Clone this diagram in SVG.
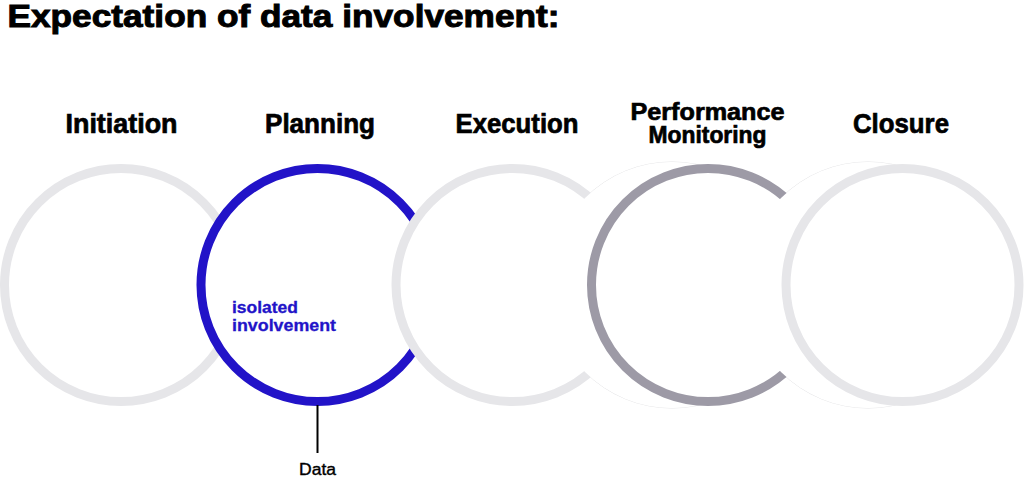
<svg xmlns="http://www.w3.org/2000/svg" width="1024" height="477" viewBox="0 0 1024 477">
  <style>
    .title { font-family: "Liberation Sans", Arial, sans-serif; font-weight: bold; font-size: 32px; fill: #000; stroke: #000; stroke-width: 1; }
    .label { font-family: "Liberation Sans", Arial, sans-serif; font-weight: bold; font-size: 27px; fill: #000; stroke: #000; stroke-width: 0.7; text-anchor: middle; }
    .label2 { font-family: "Liberation Sans", Arial, sans-serif; font-weight: bold; font-size: 23.5px; fill: #000; stroke: #000; stroke-width: 0.7; text-anchor: middle; }
    .ring { fill: #ffffff; stroke-width: 9; }
    .light { stroke: #e6e6e9; }
    .blue { stroke: #2213c8; }
    .mid { stroke: #9d9aa6; }
    .disk { fill: #ffffff; stroke: none; }
    .halo { fill: none; stroke: #e4e4e6; stroke-width: 1; }
    .inner { font-family: "Liberation Sans", Arial, sans-serif; font-weight: bold; font-size: 16.5px; fill: #2213c8; stroke: #2213c8; stroke-width: 0.3; }
    .data { font-family: "Liberation Sans", Arial, sans-serif; font-size: 16px; fill: #000; stroke: #000; stroke-width: 0.35; text-anchor: middle; }
    .leader { stroke: #000; stroke-width: 2; fill: none; }
  </style>

  <rect x="0" y="0" width="1024" height="477" fill="#ffffff"/>

  <text class="title" x="7.5" y="27" textLength="552" lengthAdjust="spacingAndGlyphs">Expectation of data involvement:</text>

  <!-- faint halos of offset backing disks -->
  <circle class="halo" cx="672" cy="285" r="123"/>
  <circle class="halo" cx="868" cy="285" r="123"/>

  <g id="initiation">
    <circle class="ring light" cx="121" cy="285" r="116.5"/>
    <text class="label" x="121.5" y="133" textLength="112" lengthAdjust="spacingAndGlyphs">Initiation</text>
  </g>

  <g id="planning">
    <circle class="ring blue" cx="317.5" cy="285" r="116.5"/>
    <text class="label" x="320" y="133" textLength="110" lengthAdjust="spacingAndGlyphs">Planning</text>
    <text class="inner" x="232" y="313" textLength="66" lengthAdjust="spacingAndGlyphs">isolated</text>
    <text class="inner" x="232" y="331" textLength="104" lengthAdjust="spacingAndGlyphs">involvement</text>
  </g>

  <g id="execution">
    <circle class="ring light" cx="512.5" cy="285" r="116.5"/>
    <text class="label" x="517" y="133" textLength="123" lengthAdjust="spacingAndGlyphs">Execution</text>
  </g>

  <g id="performance-monitoring">
    <circle class="disk" cx="672" cy="285" r="123"/>
    <circle class="ring mid" cx="708" cy="285" r="116.5"/>
    <text class="label2" x="707.5" y="119.5" textLength="154" lengthAdjust="spacingAndGlyphs">Performance</text>
    <text class="label2" x="707.5" y="143" textLength="118" lengthAdjust="spacingAndGlyphs">Monitoring</text>
  </g>

  <g id="closure">
    <circle class="disk" cx="868" cy="285" r="123"/>
    <circle class="ring light" cx="902.5" cy="285" r="116.5"/>
    <text class="label" x="901" y="133" textLength="96" lengthAdjust="spacingAndGlyphs">Closure</text>
  </g>

  <g id="connectors">
    <line class="leader" x1="317.5" y1="405" x2="317.5" y2="453"/>
  </g>

  <g id="data-label">
    <text class="data" x="317.5" y="475" textLength="37" lengthAdjust="spacingAndGlyphs">Data</text>
  </g>
</svg>
